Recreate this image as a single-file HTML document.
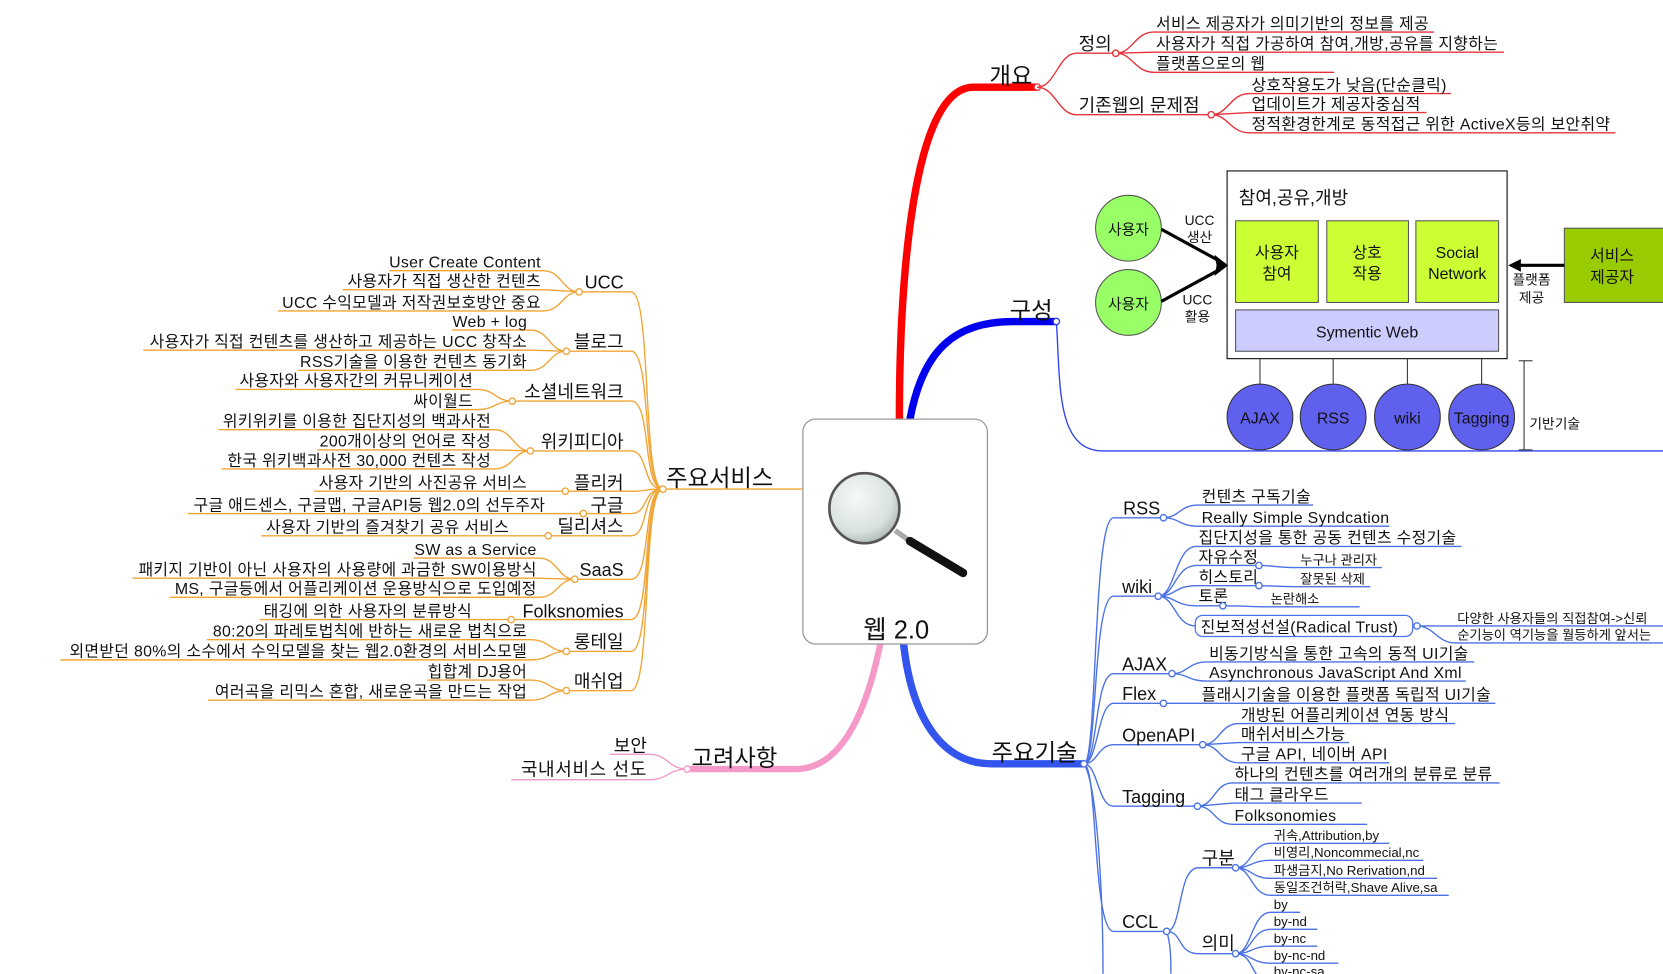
<!DOCTYPE html>
<html><head><meta charset="utf-8">
<style>
html,body{margin:0;padding:0;background:#fff;width:1663px;height:974px;overflow:hidden}
svg{display:block}
text{font-family:"Liberation Sans","Noto Sans CJK KR",sans-serif;fill:#111}
.o{fill:none;stroke:#f0a536;stroke-width:1.3}
.r{fill:none;stroke:#e8333a;stroke-width:1.3}
.b{fill:none;stroke:#4b72e6;stroke-width:1.3}
.g{font-size:15px;letter-spacing:0.3px}
.c{font-size:17px}
.s{font-size:12.5px}
.nd{fill:#fff;stroke-width:1.3}
</style></head><body>
<svg width="1663" height="974" viewBox="0 0 1568 918" xmlns="http://www.w3.org/2000/svg">
<defs>
<radialGradient id="lens" cx="0.4" cy="0.35" r="0.7"><stop offset="0" stop-color="#f6f9f8"/><stop offset="0.7" stop-color="#d9e2df"/><stop offset="1" stop-color="#aab4b1"/></radialGradient>
</defs>

<path d="M848 395 C848 300 855 82 918 82 L978 82" fill="none" stroke="#f00" stroke-width="7"/>
<path d="M858 395 C870 330 900 303 955 303 L996 303" fill="none" stroke="#0000ee" stroke-width="7"/>
<path d="M852 607 C860 680 890 720 935 720 L1022 720" fill="none" stroke="#3355ee" stroke-width="7"/>
<path d="M830 607 C815 680 790 725 750 725 L648 725" fill="none" stroke="#f59ac8" stroke-width="6"/>
<path d="M757 461 L625 461" class="o"/>

<rect x="757" y="395" width="174" height="212" rx="12" fill="#fff" stroke="#999" stroke-width="1.2"/>
<line x1="844" y1="500" x2="858" y2="510" stroke="#aaa" stroke-width="5"/>
<line x1="858" y1="510" x2="908" y2="540" stroke="#111" stroke-width="8" stroke-linecap="round"/>
<circle cx="815" cy="479" r="33" fill="url(#lens)" stroke="#555" stroke-width="2.5"/>
<text x="845" y="602" font-size="24" text-anchor="middle">웹 2.0</text>

<text x="933" y="79" font-size="22">개요</text>
<circle cx="978" cy="82" r="3" class="nd" stroke="#e8333a"/>
<path class="r" d="M978 82 C995 82 998 50 1015 50 L1052 50"/>
<text x="1017" y="47" class="c">정의</text>
<path class="r" d="M978 82 C995 82 998 108 1015 108 L1142 108"/>
<text x="1017" y="105" class="c">기존웹의 문제점</text>
<path class="r" d="M1052 50 C1068 50 1070 30 1088 30 L1352 30"/>
<path class="r" d="M1052 50 L1088 49 L1418 49"/>
<path class="r" d="M1052 50 C1068 50 1070 68 1088 68 L1258 68"/>
<text x="1090" y="27" class="g">서비스 제공자가 의미기반의 정보를 제공</text>
<text x="1090" y="46" class="g">사용자가 직접 가공하여 참여,개방,공유를 지향하는</text>
<text x="1090" y="65" class="g">플랫폼으로의 웹</text>
<circle cx="1052" cy="50" r="3" class="nd" stroke="#e8333a"/>
<path class="r" d="M1142 108 C1158 108 1160 88 1178 88 L1368 88"/>
<path class="r" d="M1142 108 L1178 106 L1345 106"/>
<path class="r" d="M1142 108 C1158 108 1160 125 1178 125 L1523 125"/>
<text x="1180" y="85" class="g">상호작용도가 낮음(단순클릭)</text>
<text x="1180" y="103" class="g">업데이트가 제공자중심적</text>
<text x="1180" y="122" class="g">정적환경한계로 동적접근 위한 ActiveX등의 보안취약</text>
<circle cx="1142" cy="108" r="3" class="nd" stroke="#e8333a"/>

<text x="952" y="300" font-size="22">구성</text>
<path d="M996 303 C1000 360 995 425 1040 425 L1568 425" fill="none" stroke="#3344ee" stroke-width="1.3"/>
<circle cx="996" cy="303" r="3" class="nd" stroke="#3344ee"/>
<rect x="1157" y="161" width="264" height="177" fill="#fff" stroke="#000" stroke-width="1"/>
<text x="1168" y="192" font-size="17">참여,공유,개방</text>
<rect x="1165" y="208" width="78" height="77" fill="#ccff33" stroke="#555"/>
<rect x="1251" y="208" width="77" height="77" fill="#ccff33" stroke="#555"/>
<rect x="1335" y="208" width="78" height="77" fill="#ccff33" stroke="#555"/>
<text x="1204" y="243" font-size="15" text-anchor="middle" fill="#333">사용자</text>
<text x="1204" y="263" font-size="15" text-anchor="middle" fill="#333">참여</text>
<text x="1289" y="243" font-size="15" text-anchor="middle" fill="#333">상호</text>
<text x="1289" y="263" font-size="15" text-anchor="middle" fill="#333">작용</text>
<text x="1374" y="243" font-size="15" text-anchor="middle" fill="#333">Social</text>
<text x="1374" y="263" font-size="15" text-anchor="middle" fill="#333">Network</text>
<rect x="1165" y="292" width="248" height="39" fill="#ccccff" stroke="#555"/>
<text x="1289" y="318" font-size="15" text-anchor="middle" fill="#333">Symentic Web</text>
<circle cx="1064" cy="215" r="31" fill="#99ff66" stroke="#555"/>
<circle cx="1064" cy="285" r="31" fill="#99ff66" stroke="#555"/>
<text x="1064" y="221" font-size="14" text-anchor="middle" fill="#333">사용자</text>
<text x="1064" y="291" font-size="14" text-anchor="middle" fill="#333">사용자</text>
<line x1="1095" y1="216" x2="1150" y2="246" stroke="#000" stroke-width="3"/>
<line x1="1095" y1="284" x2="1150" y2="254" stroke="#000" stroke-width="3"/>
<polygon points="1158,250 1145,240 1148,254" fill="#000"/>
<polygon points="1158,250 1148,246 1145,260" fill="#000"/>
<text x="1131" y="212" font-size="13" text-anchor="middle">UCC</text>
<text x="1131" y="228" font-size="13" text-anchor="middle">생산</text>
<text x="1129" y="287" font-size="13" text-anchor="middle">UCC</text>
<text x="1129" y="303" font-size="13" text-anchor="middle">활용</text>
<rect x="1475" y="215" width="95" height="70" fill="#99cc00" stroke="#555"/>
<text x="1520" y="246" font-size="15" text-anchor="middle" fill="#333">서비스</text>
<text x="1520" y="266" font-size="15" text-anchor="middle" fill="#333">제공자</text>
<line x1="1475" y1="250" x2="1432" y2="250" stroke="#000" stroke-width="3"/>
<polygon points="1422,250 1434,244 1434,256" fill="#000"/>
<text x="1444" y="268" font-size="13" text-anchor="middle">플랫폼</text>
<text x="1444" y="285" font-size="13" text-anchor="middle">제공</text>
<g stroke="#333" stroke-width="1">
<line x1="1188" y1="338" x2="1188" y2="362"/><line x1="1257" y1="338" x2="1257" y2="362"/>
<line x1="1327" y1="338" x2="1327" y2="362"/><line x1="1397" y1="338" x2="1397" y2="362"/>
<line x1="1437" y1="340" x2="1437" y2="424"/><line x1="1432" y1="340" x2="1445" y2="340"/><line x1="1432" y1="424" x2="1445" y2="424"/>
</g>
<g fill="#6060ee" stroke="#333">
<circle cx="1188" cy="393" r="31"/><circle cx="1257" cy="393" r="31"/><circle cx="1327" cy="393" r="31"/><circle cx="1397" cy="393" r="31"/>
</g>
<text x="1188" y="399" font-size="15" text-anchor="middle" fill="#222">AJAX</text>
<text x="1257" y="399" font-size="15" text-anchor="middle" fill="#222">RSS</text>
<text x="1327" y="399" font-size="15" text-anchor="middle" fill="#222">wiki</text>
<text x="1397" y="399" font-size="15" text-anchor="middle" fill="#222">Tagging</text>
<text x="1442" y="404" font-size="13">기반기술</text>

<text x="935" y="717" font-size="22">주요기술</text>
<path class="b" d="M1022 720 C1035 720 1030 488 1050 488 L1097 488"/>
<path class="b" d="M1022 720 C1035 720 1030 562 1050 562 L1092 562"/>
<path class="b" d="M1022 720 C1035 720 1032 635 1050 635 L1105 635"/>
<path class="b" d="M1022 720 C1035 720 1035 663 1050 663 L1097 663"/>
<path class="b" d="M1022 720 C1035 720 1035 702 1050 702 L1134 702"/>
<path class="b" d="M1022 720 C1035 720 1035 760 1050 760 L1129 760"/>
<path class="b" d="M1022 720 C1035 720 1030 878 1050 878 L1100 878"/>
<path class="b" d="M1022 720 C1035 740 1040 850 1040 918"/>
<circle cx="1022" cy="720" r="3" class="nd" stroke="#4b72e6"/>
<text x="1059" y="485" class="c">RSS</text>
<text x="1058" y="559" class="c">wiki</text>
<text x="1058" y="632" class="c">AJAX</text>
<text x="1058" y="660" class="c">Flex</text>
<text x="1058" y="699" class="c">OpenAPI</text>
<text x="1058" y="757" class="c">Tagging</text>
<text x="1058" y="875" class="c">CCL</text>
<path class="b" d="M1097 488 C1112 488 1112 476 1130 476 L1238 476"/>
<path class="b" d="M1097 488 C1112 488 1112 496 1130 496 L1310 496"/>
<text x="1133" y="473" class="g">컨텐츠 구독기술</text>
<text x="1133" y="493" class="g">Really Simple Syndcation</text>
<circle cx="1097" cy="488" r="3" class="nd" stroke="#4b72e6"/>
<path class="b" d="M1092 562 C1108 562 1108 515 1128 515 L1378 515"/>
<path class="b" d="M1092 562 C1108 562 1108 533 1128 533 L1187 533 C1200 533 1205 535 1222 535 L1303 535"/>
<path class="b" d="M1092 562 C1108 562 1108 552 1128 552 L1187 552 C1200 552 1205 553 1222 553 L1292 553"/>
<path class="b" d="M1092 562 C1108 562 1108 571 1128 571 L1153 571 C1170 571 1180 572 1195 572 L1282 572"/>
<path class="b" d="M1092 562 C1108 562 1108 590 1127 590"/>
<text x="1130" y="512" class="g">집단지성을 통한 공동 컨텐츠 수정기술</text>
<text x="1130" y="530" class="g">자유수정</text>
<text x="1130" y="549" class="g">히스토리</text>
<text x="1130" y="567" class="g">토론</text>
<text x="1226" y="532" class="s">누구나 관리자</text>
<text x="1226" y="550" class="s">잘못된 삭제</text>
<text x="1198" y="569" class="s">논란해소</text>
<circle cx="1187" cy="533" r="3" class="nd" stroke="#4b72e6"/>
<circle cx="1187" cy="552" r="3" class="nd" stroke="#4b72e6"/>
<circle cx="1153" cy="571" r="3" class="nd" stroke="#4b72e6"/>
<circle cx="1092" cy="562" r="3" class="nd" stroke="#4b72e6"/>
<rect x="1127" y="580" width="205" height="20" rx="7" fill="#fff" stroke="#4b72e6" stroke-width="1.2"/>
<text x="1132" y="596" class="g">진보적성선설(Radical Trust)</text>
<path class="b" d="M1336 590 C1352 590 1355 590 1372 590 L1568 590"/>
<path class="b" d="M1336 590 C1352 590 1355 606 1372 606 L1568 606"/>
<text x="1374" y="587" class="s">다양한 사용자들의 직접참여-&gt;신뢰</text>
<text x="1374" y="603" class="s">순기능이 역기능을 월등하게 앞서는</text>
<circle cx="1336" cy="590" r="3" class="nd" stroke="#4b72e6"/>
<path class="b" d="M1105 635 C1120 635 1120 624 1138 624 L1390 624"/>
<path class="b" d="M1105 635 C1120 635 1120 642 1138 642 L1382 642"/>
<text x="1140" y="621" class="g">비동기방식을 통한 고속의 동적 UI기술</text>
<text x="1140" y="639" class="g">Asynchronous JavaScript And Xml</text>
<circle cx="1105" cy="635" r="3" class="nd" stroke="#4b72e6"/>
<path class="b" d="M1097 663 L1410 663"/>
<text x="1133" y="660" class="g">플래시기술을 이용한 플랫폼 독립적 UI기술</text>
<circle cx="1097" cy="663" r="3" class="nd" stroke="#4b72e6"/>
<path class="b" d="M1134 702 C1150 702 1150 682 1168 682 L1372 682"/>
<path class="b" d="M1134 702 L1168 700 L1272 700"/>
<path class="b" d="M1134 702 C1150 702 1150 719 1168 719 L1310 719"/>
<text x="1170" y="679" class="g">개방된 어플리케이션 연동 방식</text>
<text x="1170" y="697" class="g">매쉬서비스가능</text>
<text x="1170" y="716" class="g">구글 API, 네이버 API</text>
<circle cx="1134" cy="702" r="3" class="nd" stroke="#4b72e6"/>
<path class="b" d="M1129 760 C1145 760 1145 738 1162 738 L1414 738"/>
<path class="b" d="M1129 760 L1162 757 L1284 757"/>
<path class="b" d="M1129 760 C1145 760 1145 777 1162 777 L1289 777"/>
<text x="1164" y="735" class="g">하나의 컨텐츠를 여러개의 분류로 분류</text>
<text x="1164" y="754" class="g">태그 클라우드</text>
<text x="1164" y="774" class="g">Folksonomies</text>
<circle cx="1129" cy="760" r="3" class="nd" stroke="#4b72e6"/>
<path class="b" d="M1100 878 C1115 878 1110 818 1130 818 L1165 818"/>
<path class="b" d="M1100 878 C1115 878 1110 899 1130 899 L1165 899"/>
<path class="b" d="M1100 878 C1104 890 1104 905 1104 918"/>
<text x="1133" y="815" class="c">구분</text>
<text x="1133" y="895" class="c">의미</text>
<path class="b" d="M1165 818 C1180 818 1180 795 1198 795 L1310 795"/>
<path class="b" d="M1165 818 C1180 818 1180 811 1198 811 L1342 811"/>
<path class="b" d="M1165 818 C1180 818 1180 828 1198 828 L1355 828"/>
<path class="b" d="M1165 818 C1180 818 1180 844 1198 844 L1366 844"/>
<text x="1201" y="792" class="s">귀속,Attribution,by</text>
<text x="1201" y="808" class="s">비영리,Noncommecial,nc</text>
<text x="1201" y="825" class="s">파생금지,No Rerivation,nd</text>
<text x="1201" y="841" class="s">동일조건허락,Shave Alive,sa</text>
<path class="b" d="M1165 899 C1180 899 1180 860 1198 860 L1226 860"/>
<path class="b" d="M1165 899 C1180 899 1180 876 1198 876 L1242 876"/>
<path class="b" d="M1165 899 C1180 899 1180 892 1198 892 L1242 892"/>
<path class="b" d="M1165 899 C1180 899 1180 908 1198 908 L1262 908"/>
<path class="b" d="M1165 899 C1180 899 1180 918 1190 924"/>
<text x="1201" y="857" class="s">by</text>
<text x="1201" y="873" class="s">by-nd</text>
<text x="1201" y="889" class="s">by-nc</text>
<text x="1201" y="905" class="s">by-nc-nd</text>
<text x="1201" y="920" class="s">by-nc-sa</text>
<circle cx="1165" cy="818" r="3" class="nd" stroke="#4b72e6"/>
<circle cx="1165" cy="899" r="3" class="nd" stroke="#4b72e6"/>
<circle cx="1100" cy="878" r="3" class="nd" stroke="#4b72e6"/>

<text x="652" y="722" font-size="22">고려사항</text>
<path d="M648 725 C630 725 630 711 612 711 L575 711" fill="none" stroke="#f59ac8" stroke-width="1.3"/>
<path d="M648 725 C630 725 630 735 612 735 L482 735" fill="none" stroke="#f59ac8" stroke-width="1.3"/>
<text x="610" y="709" class="c" text-anchor="end">보안</text>
<text x="610" y="731" class="c" text-anchor="end" letter-spacing="0.6">국내서비스 선도</text>
<circle cx="648" cy="725" r="3" class="nd" stroke="#f59ac8"/>

<text x="628" y="458" font-size="22">주요서비스</text>
<g class="o">
<path d="M625 461 C605 461 615 275 595 275 L546 275"/>
<path d="M625 461 C605 461 615 331 595 331 L534 331"/>
<path d="M625 461 C605 461 615 378 595 378 L483 378"/>
<path d="M625 461 C605 461 612 425 595 425 L500 425"/>
<path d="M625 461 C605 461 612 463 595 463 L533 463"/>
<path d="M625 461 C605 461 612 484 595 484 L550 484"/>
<path d="M625 461 C605 461 612 505 595 505 L517 505"/>
<path d="M625 461 C605 461 615 546 595 546 L542 546"/>
<path d="M625 461 C605 461 615 584 595 584 L482 584"/>
<path d="M625 461 C605 461 615 614 595 614 L534 614"/>
<path d="M625 461 C605 461 615 651 595 651 L534 651"/>
<path d="M546 275 C530 275 530 255 512 255 L367 255"/>
<path d="M546 275 L512 273 L323 273"/>
<path d="M546 275 C530 275 530 293 512 293 L262 293"/>
<path d="M534 331 C518 331 518 311 500 311 L426 311"/>
<path d="M534 331 L500 330 L135 330"/>
<path d="M534 331 C518 331 518 349 500 349 L281 349"/>
<path d="M483 378 C467 378 467 367 450 367 L222 367"/>
<path d="M483 378 C467 378 467 386 450 386 L418 386"/>
<path d="M500 425 C484 425 484 405 466 405 L206 405"/>
<path d="M500 425 L466 424 L299 424"/>
<path d="M500 425 C484 425 484 442 466 442 L209 442"/>
<path d="M533 463 L296 463"/>
<path d="M550 484 L177 484"/>
<path d="M517 505 L246 505"/>
<path d="M542 546 C526 546 526 526 508 526 L390 526"/>
<path d="M542 546 L508 545 L125 545"/>
<path d="M542 546 C526 546 526 563 508 563 L160 563"/>
<path d="M482 584 L245 584"/>
<path d="M534 614 C518 614 518 603 500 603 L195 603"/>
<path d="M534 614 C518 614 518 622 500 622 L57 622"/>
<path d="M534 651 C518 651 518 641 500 641 L403 641"/>
<path d="M534 651 C518 651 518 660 500 660 L196 660"/>
</g>
<g fill="#fff" stroke="#f0a536" stroke-width="1.3">
<circle cx="625" cy="461" r="3"/><circle cx="546" cy="275" r="3"/><circle cx="534" cy="331" r="3"/><circle cx="483" cy="378" r="3"/><circle cx="500" cy="425" r="3"/><circle cx="533" cy="463" r="3"/><circle cx="550" cy="484" r="3"/><circle cx="517" cy="505" r="3"/><circle cx="542" cy="546" r="3"/><circle cx="482" cy="584" r="3"/><circle cx="534" cy="614" r="3"/><circle cx="534" cy="651" r="3"/>
</g>
<g class="c" text-anchor="end">
<text x="588" y="272">UCC</text>
<text x="588" y="328">블로그</text>
<text x="588" y="375">소셜네트워크</text>
<text x="588" y="422">위키피디아</text>
<text x="588" y="461">플리커</text>
<text x="588" y="482">구글</text>
<text x="588" y="502">딜리셔스</text>
<text x="588" y="543">SaaS</text>
<text x="588" y="582">Folksnomies</text>
<text x="588" y="611">롱테일</text>
<text x="588" y="648">매쉬업</text>
</g>
<g class="g" text-anchor="end">
<text x="510" y="252">User Create Content</text>
<text x="510" y="270">사용자가 직접 생산한 컨텐츠</text>
<text x="510" y="290">UCC 수익모델과 저작권보호방안 중요</text>
<text x="497" y="308">Web + log</text>
<text x="497" y="327">사용자가 직접 컨텐츠를 생산하고 제공하는 UCC 창작소</text>
<text x="497" y="346">RSS기술을 이용한 컨텐츠 동기화</text>
<text x="446" y="364">사용자와 사용자간의 커뮤니케이션</text>
<text x="446" y="383">싸이월드</text>
<text x="463" y="402">위키위키를 이용한 집단지성의 백과사전</text>
<text x="463" y="421">200개이상의 언어로 작성</text>
<text x="463" y="439">한국 위키백과사전 30,000 컨텐츠 작성</text>
<text x="497" y="460">사용자 기반의 사진공유 서비스</text>
<text x="514" y="481">구글 애드센스, 구글맵, 구글API등 웹2.0의 선두주자</text>
<text x="480" y="502">사용자 기반의 즐겨찾기 공유 서비스</text>
<text x="506" y="523">SW as a Service</text>
<text x="506" y="542">패키지 기반이 아닌 사용자의 사용량에 과금한 SW이용방식</text>
<text x="506" y="560">MS, 구글등에서 어플리케이션 운용방식으로 도입예정</text>
<text x="445" y="581">태깅에 의한 사용자의 분류방식</text>
<text x="497" y="600">80:20의 파레토법칙에 반하는 새로운 법칙으로</text>
<text x="497" y="619">외면받던 80%의 소수에서 수익모델을 찾는 웹2.0환경의 서비스모델</text>
<text x="497" y="638">힙합계 DJ용어</text>
<text x="497" y="657">여러곡을 리믹스 혼합, 새로운곡을 만드는 작업</text>
</g>
</svg>
</body></html>
